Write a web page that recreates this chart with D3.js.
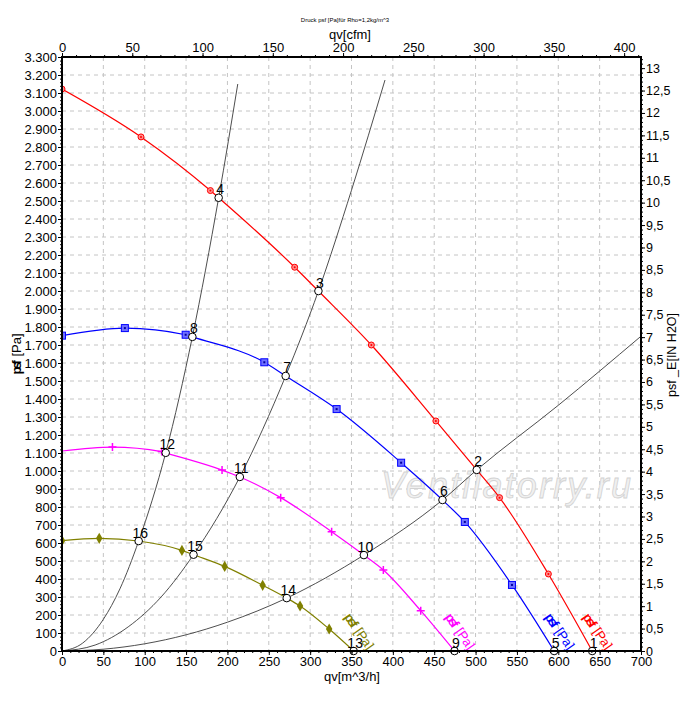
<!DOCTYPE html>
<html>
<head>
<meta charset="utf-8">
<script src="https://cdn.jsdelivr.net/npm/d3@7"></script>
<style>
body { margin: 0; background: #fff; }
text { font-family: "Liberation Sans", Arial, sans-serif; }
</style>
</head>
<body>
<svg id="chart" width="700" height="701"></svg>
<script>
// fan curves, marker points: qv [m^3/h] / psf [Pa]
const redQ = [0, 95.5, 179.4, 281.3, 374, 452, 529, 588];
const redP = [3122, 2856, 2558, 2132, 1700, 1278, 852, 428];
const blueQ = [0, 76, 149.5, 244.6, 332, 410, 487, 544];
const blueP = [1752, 1794, 1757, 1604, 1344, 1046, 717, 367];
const magentaQ = [61, 120.5, 193.5, 264.4, 326, 388.5, 433.7];
const magentaP = [1133, 1108, 1005, 852, 663, 450, 224];
const magentaStartP = 1111;
const oliveQ = [0, 45, 145, 196.7, 242.6, 287.8, 323];
const oliveP = [613, 626, 559, 470, 365, 250, 122];

// numbered operating points (1-4 red, 5-8 blue, 9-12 magenta, 13-16 olive)
const pointNo = [1, 2, 3, 4, 5, 6, 7, 8, 9, 10, 11, 12, 13, 14, 15, 16];
const pointQ = [641, 501.4, 310, 189.4, 595, 460, 270.4, 157.6, 474.5, 365, 215, 125.4, 352.6, 271.7, 159, 92.7];
const pointP = [0, 1006, 2000, 2518, 0, 839, 1528, 1745, 0, 533, 967, 1101, 0, 294, 535, 611];

// system curves (black), extra points besides the operating points
const sysAQ = [0, 25, 50, 70, 212.5];
const sysAP = [0, 44, 176, 345, 3150];
const sysBQ = [0, 40, 80, 120, 350, 390.5];
const sysBP = [0, 33, 134, 301, 2560, 3172];
const sysCQ = [0, 50, 100, 150, 200, 600, 699];
const sysCP = [0, 10, 40, 90, 160, 1365, 1745];

// axes
const qTicks = d3.range(0, 701, 50);
const pTicks = d3.range(0, 3301, 100);
const cfmTicks = d3.range(0, 401, 50);
const inTicks = d3.range(0, 27).map(i => i / 2);

const svg = d3.select("#chart");
const L = 62, R = 641, T = 57, B = 651;

const x = d3.scaleLinear().domain([0, 700]).range([L, R]);
const y = d3.scaleLinear().domain([0, 3300]).range([B, T]);
const xTop = d3.scaleLinear().domain([0, 700 / 1.69901]).range([L, R]);
const yRight = d3.scaleLinear().domain([0, 3300 / 249.089]).range([B, T]);

const de = d3.formatLocale({decimal: ",", thousands: ".", grouping: [3], currency: ["", ""]});
const fmtPa = de.format(",");
const fmtIn = de.format(".1~f");

svg.append("defs").append("clipPath").attr("id", "plot")
  .append("rect").attr("x", L).attr("y", T).attr("width", R - L).attr("height", B - T);

// grid
const grid = svg.append("g").attr("stroke", "#c4c4c4").attr("stroke-dasharray", "4,4").attr("stroke-width", 1);
grid.selectAll(".gx").data(qTicks).join("line")
  .attr("x1", d => x(d)).attr("x2", d => x(d)).attr("y1", T).attr("y2", B);
grid.selectAll(".gy").data(pTicks).join("line")
  .attr("x1", L).attr("x2", R).attr("y1", d => y(d)).attr("y2", d => y(d));

// watermark
svg.append("text")
  .attr("x", 381).attr("y", 498)
  .attr("textLength", 250)
  .style("font-size", "36px").style("font-style", "italic")
  .attr("fill", "#f0f0f0").attr("stroke", "#d2d2d2").attr("stroke-width", 0.8)
  .text("Ventilatorry.ru");

const plot = svg.append("g").attr("clip-path", "url(#plot)");
const line = d3.line().x(d => x(d[0])).y(d => y(d[1])).curve(d3.curveMonotoneX);

// system curves
function sysLine(qs, ps, idx) {
  const pts = qs.map((q, i) => [q, ps[i]]);
  idx.forEach(i => pts.push([pointQ[i], pointP[i]]));
  pts.sort((a, b) => a[0] - b[0]);
  plot.append("path").attr("d", line(pts))
    .attr("fill", "none").attr("stroke", "#3a3a3a").attr("stroke-width", 0.9);
}
sysLine(sysAQ, sysAP, [3, 7, 11, 15]);
sysLine(sysBQ, sysBP, [2, 6, 10, 14]);
sysLine(sysCQ, sysCP, [1, 5, 9, 13]);

// fan curves
const fans = [
  {q: redQ, p: redP, color: "#ff0000", mark: "circle", pts: [0, 1, 2, 3]},
  {q: blueQ, p: blueP, color: "#0000ff", mark: "square", pts: [4, 5, 6, 7]},
  {q: magentaQ, p: magentaP, color: "#ff00ff", mark: "cross", pts: [8, 9, 10, 11]},
  {q: oliveQ, p: oliveP, color: "#808000", mark: "diamond", pts: [12, 13, 14, 15]}
];

fans.forEach(f => {
  const pts = f.q.map((q, i) => [q, f.p[i]]);
  if (f.mark == "cross") pts.push([0, magentaStartP]);
  f.pts.forEach(i => pts.push([pointQ[i], pointP[i]]));
  pts.sort((a, b) => a[0] - b[0]);
  plot.append("path").attr("d", line(pts))
    .attr("fill", "none").attr("stroke", f.color).attr("stroke-width", 1.2);

  const m = plot.append("g");
  f.q.forEach((q, i) => {
    const cx = x(q), cy = y(f.p[i]);
    if (f.mark == "circle") {
      m.append("circle").attr("cx", cx).attr("cy", cy).attr("r", 3)
        .attr("fill", "#ff9090").attr("stroke", f.color).attr("stroke-width", 1);
      m.append("circle").attr("cx", cx).attr("cy", cy).attr("r", 1).attr("fill", f.color);
    } else if (f.mark == "square") {
      m.append("rect").attr("x", cx - 3.5).attr("y", cy - 3.5).attr("width", 7).attr("height", 7)
        .attr("fill", "#7070ff").attr("stroke", f.color).attr("stroke-width", 1);
      m.append("rect").attr("x", cx - 1).attr("y", cy - 1).attr("width", 2).attr("height", 2).attr("fill", "#0000a0");
    } else if (f.mark == "cross") {
      m.append("path").attr("d", `M${cx - 4},${cy}H${cx + 4}M${cx},${cy - 4}V${cy + 4}`)
        .attr("stroke", f.color).attr("stroke-width", 1.5);
    } else {
      m.append("path").attr("transform", `translate(${cx},${cy})`)
        .attr("d", d3.symbol(d3.symbolDiamond, 36)()).attr("fill", f.color);
    }
  });

  // curve label along the end of the curve
  const end = f.pts[0];
  const lx = x(pointQ[end]) - 10, ly = 617;
  const t = svg.append("text")
    .attr("transform", `translate(${lx},${ly}) rotate(55)`)
    .attr("fill", f.color).style("font-size", "13px");
  t.append("tspan").attr("letter-spacing", "-2.5px").style("font-weight", "bold").text("psf");
  t.append("tspan").attr("dx", 6).text("[Pa]");
});

// operating points
const ops = svg.append("g");
pointNo.forEach((n, i) => {
  const cx = x(pointQ[i]), cy = y(pointP[i]);
  ops.append("circle").attr("cx", cx).attr("cy", cy).attr("r", 3.8)
    .attr("fill", "#fff").attr("stroke", "#000").attr("stroke-width", 1);
  ops.append("text").attr("x", cx + 1.5).attr("y", cy - 3.5)
    .attr("text-anchor", "middle").style("font-size", "14px").text(n);
});

// axes
function styleAxis(g, size) {
  g.select(".domain").remove();
  g.selectAll("text").style("font-size", (size || 13) + "px").style("font-family", "'Liberation Sans', Arial, sans-serif").attr("fill", "#000");
  g.selectAll("line").attr("stroke", "#000");
}

svg.append("g").attr("transform", `translate(${L},0)`)
  .call(d3.axisLeft(y).tickValues(pTicks).tickFormat(fmtPa).tickSize(4).tickPadding(1)).call(styleAxis);
svg.append("g").attr("transform", `translate(${L},0)`)
  .call(d3.axisLeft(y).tickValues(d3.range(0, 3301, 20)).tickFormat("").tickSize(2)).call(styleAxis);

svg.append("g").attr("transform", `translate(${R},0)`)
  .call(d3.axisRight(yRight).tickValues(inTicks).tickFormat(fmtIn).tickSize(4).tickPadding(1)).call(styleAxis, 12.5);
svg.append("g").attr("transform", `translate(${R},0)`)
  .call(d3.axisRight(yRight).tickValues(d3.range(0, 133).map(i => i / 10)).tickFormat("").tickSize(2)).call(styleAxis);

svg.append("g").attr("transform", `translate(0,${B})`)
  .call(d3.axisBottom(x).tickValues(qTicks).tickSize(4).tickPadding(2)).call(styleAxis);
svg.append("g").attr("transform", `translate(0,${B})`)
  .call(d3.axisBottom(x).tickValues(d3.range(0, 701, 10)).tickFormat("").tickSize(2)).call(styleAxis);

svg.append("g").attr("transform", `translate(0,${T})`)
  .call(d3.axisTop(xTop).tickValues(cfmTicks).tickSize(4).tickPadding(1)).call(styleAxis);
svg.append("g").attr("transform", `translate(0,${T})`)
  .call(d3.axisTop(xTop).tickValues(d3.range(0, 411, 10)).tickFormat("").tickSize(2)).call(styleAxis);

svg.append("rect").attr("x", L).attr("y", T).attr("width", R - L).attr("height", B - T)
  .attr("fill", "none").attr("stroke", "#000").attr("stroke-width", 2);

// titles
svg.append("text").attr("x", 345).attr("y", 22).attr("text-anchor", "middle")
  .style("font-size", "6px").text("Druck psf [Pa]für Rho=1,2kg/m^3");
svg.append("text").attr("x", 350).attr("y", 39).attr("text-anchor", "middle")
  .style("font-size", "13px").text("qv[cfm]");
svg.append("text").attr("x", 352).attr("y", 681).attr("text-anchor", "middle")
  .style("font-size", "13px").text("qv[m^3/h]");

const lt = svg.append("text").attr("transform", "translate(21,354) rotate(-90)")
  .attr("text-anchor", "middle").style("font-size", "13px");
lt.append("tspan").attr("letter-spacing", "-2.5px").style("font-weight", "bold").text("psf");
lt.append("tspan").attr("dx", 6).text("[Pa]");

svg.append("text").attr("transform", "translate(676,355) rotate(-90)")
  .attr("text-anchor", "middle").style("font-size", "12.5px").text("psf _E[IN H2O]");
</script>
</body>
</html>
